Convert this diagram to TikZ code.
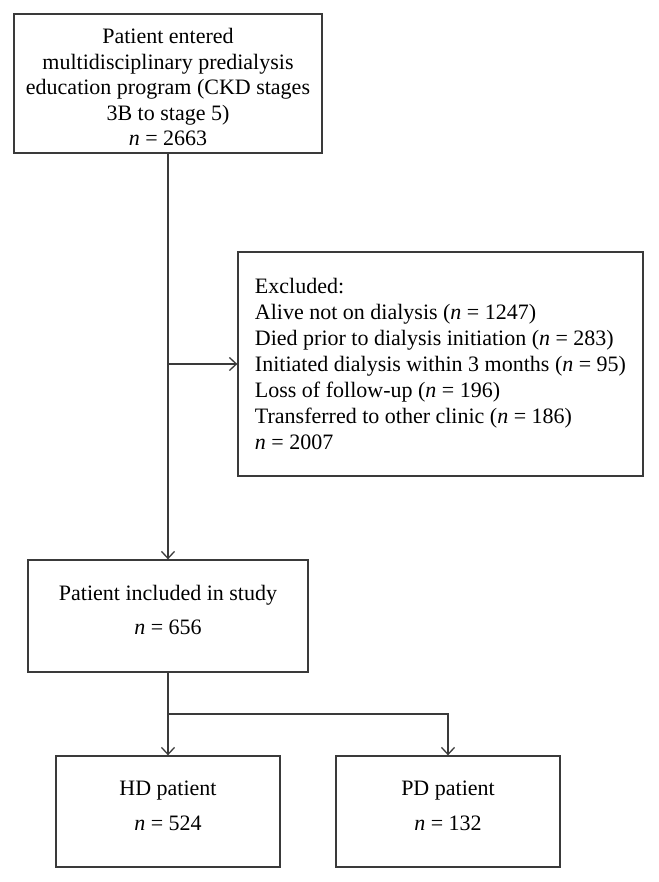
\documentclass[tikz,border=0pt]{standalone}
\usepackage{fontspec}
\setmainfont{Liberation Serif}
\usetikzlibrary{arrows.meta}
\definecolor{linegray}{HTML}{3A3A3A}

\begin{document}
\begin{tikzpicture}[x=1pt,y=-1pt,
  box/.style={draw=linegray,line width=1.3pt,rectangle,inner sep=0pt,align=center,font=\fontsize{22}{25.5}\selectfont},
  arr/.style={draw=linegray,line width=1.3pt,-{Straight Barb[length=7pt,width=13pt]}}]
\useasboundingbox (0,0) rectangle (658,882);
\node[box,minimum width=308pt,minimum height=139pt] (entered) at (168,83.5) {\rule{0pt}{23pt}Patient entered\\ multidisciplinary predialysis\\ education program (CKD stages\\ 3B to stage 5)\\ \textit{n} = 2663};
\node[box,align=left,minimum width=405pt,minimum height=224pt,font=\fontsize{22}{26}\selectfont] (excl) at (440.5,364) {Excluded:\\ Alive not on dialysis (\textit{n} = 1247)\\ Died prior to dialysis initiation (\textit{n} = 283)\\ Initiated dialysis within 3 months (\textit{n} = 95)\\ Loss of follow-up (\textit{n} = 196)\\ Transferred to other clinic (\textit{n} = 186)\\ \textit{n} = 2007};
\node[box,minimum width=280pt,minimum height=112pt] (incl) at (168,616) {Patient included in study\\[9pt] \textit{n} = 656\rule[-12pt]{0pt}{12pt}};
\node[box,minimum width=224pt,minimum height=111pt] (hd) at (168,811.5) {HD patient\\[9pt] \textit{n} = 524\rule[-12pt]{0pt}{12pt}};
\node[box,minimum width=224pt,minimum height=111pt] (pd) at (448,811.5) {PD patient\\[9pt] \textit{n} = 132\rule[-12pt]{0pt}{12pt}};
\coordinate (fork) at (168,714);
\draw[arr] (entered.south) -- (incl.north);
\draw[arr] (entered.south |- excl.west) -- (excl.west);
\draw[arr] (incl.south) -- (hd.north);
\draw[arr] (fork) -| (pd.north);
\end{tikzpicture}
\end{document}
